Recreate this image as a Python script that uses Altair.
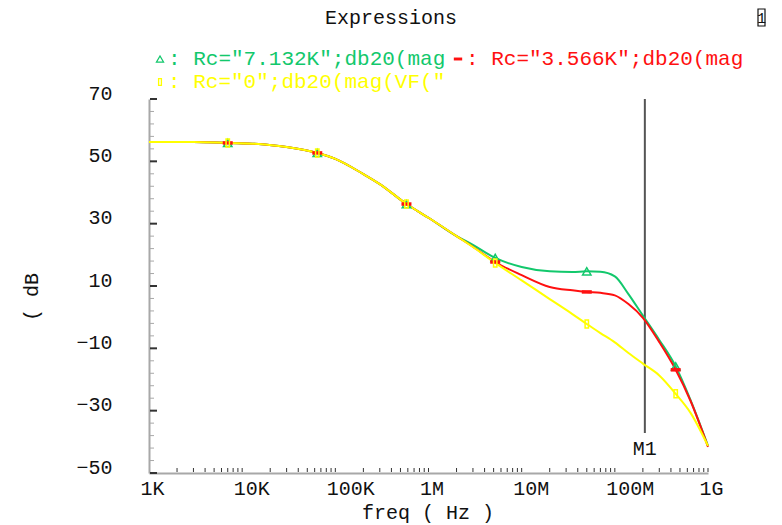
import altair as alt
import pandas as pd

# ---------------- data ----------------
freq_hz = [1e3, 3e3, 7e3, 1.5e4, 3e4, 6.4e4, 1e5, 2e5, 3e5, 5.8e5, 1e6, 2e6, 3e6,
           5.2e6, 1e7, 2e7, 3.5e7, 5e7, 7e7, 1e8, 1.4e8, 2e8, 3e8, 4.5e8, 6.5e8, 1e9]
db_rc_7132 = [56.2, 56.2, 55.9, 55.6, 54.6, 52.7, 50.8, 45.9, 42.7, 36.3, 31.9, 26.0, 23.2,
              19.0, 16.1, 14.7, 14.5, 14.7, 14.6, 13.1, 7.4, 0.5, -7.3, -15.8, -26.6, -41.3]
db_rc_3566 = [56.2, 56.2, 55.9, 55.6, 54.6, 52.7, 50.8, 45.9, 42.7, 36.3, 31.9, 26.0, 22.6,
              17.7, 13.5, 9.7, 8.6, 8.1, 7.8, 7.0, 4.2, -0.2, -8.0, -16.9, -26.9, -41.6]
db_rc_0 = [56.2, 56.2, 55.9, 55.6, 54.6, 52.7, 50.8, 45.9, 42.7, 36.3, 31.9, 26.0, 22.5,
           17.4, 11.8, 5.8, 1.0, -2.2, -5.1, -8.1, -11.5, -14.9, -18.7, -24.6, -30.7, -41.3]
marker_freqs = [7e3, 6.4e4, 5.8e5, 5.2e6, 5e7, 4.5e8]
m1_freq = [2.1e8]

series_names = ["Rc=7.132K", "Rc=3.566K", "Rc=0"]
series_colors = ["#12c86c", "#ff1010", "#ffff00"]
legend_texts = [': Rc="7.132K";db20(mag', ': Rc="3.566K";db20(mag', ': Rc="0";db20(mag(VF("']

x_tick_values = [1000, 10000, 100000, 1000000, 10000000, 100000000, 1000000000]
x_tick_labels = ["1K", "10K", "100K", "1M", "10M", "100M", "1G"]
y_tick_values = [-50, -30, -10, 10, 30, 50, 70]
y_minor_values = [v for v in range(-50, 71, 4) if v not in y_tick_values]
x_minor_values = [m * 10 ** k for k in range(3, 9) for m in range(2, 11)]

chart_title = "Expressions"
x_title = "freq ( Hz )"
y_title = "( dB"
marker_name = "M1"

# ---------------- build ----------------
W, H = 559, 374
FONT = "Liberation Mono"

rows = []
for name, vals in zip(series_names, [db_rc_7132, db_rc_3566, db_rc_0]):
    for f, v in zip(freq_hz, vals):
        rows.append({"freq": f, "db": v, "series": name, "marker": f in marker_freqs})
df = pd.DataFrame(rows)

x_scale = alt.Scale(type="log", domain=[1e3, 1e9], nice=False)
y_scale = alt.Scale(domain=[-50, 70], nice=False, zero=False)

label_expr = " : ".join(f"datum.value == {v} ? '{l}'" for v, l in zip(x_tick_values, x_tick_labels)) + " : ''"

x_axis = alt.Axis(values=x_tick_values, labelExpr=label_expr, title=None, grid=False,
                  ticks=False, tickSize=0, domainColor="#a8a8a8", domainWidth=2,
                  labelFont=FONT, labelFontSize=20, labelColor="#111",
                  labelAlign="left", labelOffset=-9, labelPadding=5, labelFlush=False,
                  labelOverlap=False)
y_axis = alt.Axis(values=y_tick_values, title=None, grid=False, ticks=False, tickSize=0,
                  domainColor="#a8a8a8", domainWidth=2, labelFont=FONT, labelFontSize=20,
                  labelColor="#111", labelPadding=37, labelOffset=-6, format="d",
                  labelBaseline="middle")

X = alt.X("freq:Q", scale=x_scale, axis=x_axis)
Y = alt.Y("db:Q", scale=y_scale, axis=y_axis)

layers = []

# marker M1 vertical line
m1_df = pd.DataFrame({"freq": m1_freq, "name": [marker_name]})
layers.append(alt.Chart(m1_df).mark_rule(color="#555555", strokeWidth=2).encode(
    x=X, y=alt.value(0), y2=alt.value(334)))
layers.append(alt.Chart(m1_df).mark_text(font=FONT, fontSize=20, color="#111",
                                          align="center", baseline="middle").encode(
    x=X, y=alt.value(350), text="name:N"))

# inner ticks
ymaj = pd.DataFrame({"db": y_tick_values})
ymin = pd.DataFrame({"db": y_minor_values})
xmin = pd.DataFrame({"freq": x_minor_values})
layers.append(alt.Chart(ymin).mark_rule(color="#a8a8a8", strokeWidth=1).encode(
    y=Y, x=alt.value(1), x2=alt.value(5)))
layers.append(alt.Chart(ymaj).mark_rule(color="#333333", strokeWidth=2).encode(
    y=Y, x=alt.value(1), x2=alt.value(8)))
layers.append(alt.Chart(xmin).mark_rule(color="#333333", strokeWidth=1).encode(
    x=X, y=alt.value(H - 5), y2=alt.value(H - 1)))

# curves
for name, col in zip(series_names, series_colors):
    layers.append(alt.Chart(df).transform_filter(alt.datum.series == name)
                  .mark_line(interpolate="monotone", color=col, strokeWidth=2)
                  .encode(x=X, y=Y))

# data markers
shape_tri = "triangle-up"
shape_red = "M-1,-0.35H1V0.35H-1Z"
shape_yel = "M-0.42,-1H0.42V1H-0.42Z"
marker_specs = [
    (series_names[0], series_colors[0], shape_tri, False, 70),
    (series_names[1], series_colors[1], shape_red, True, 100),
    (series_names[2], series_colors[2], shape_yel, False, 64),
]
for name, col, shp, filled, sz in marker_specs:
    layers.append(alt.Chart(df).transform_filter(
        (alt.datum.series == name) & (alt.datum.marker == True))
        .mark_point(shape=shp, filled=filled, color=col, size=sz, strokeWidth=1.5, opacity=1)
        .encode(x=X, y=Y))

# legend symbols and texts
leg_pos = [(11, -40), (309, -40), (11, -17)]
for (lx, ly), (name, col, shp, filled, sz), txt in zip(leg_pos, marker_specs, legend_texts):
    layers.append(alt.Chart(pd.DataFrame({"t": [txt]})).mark_point(
        shape=shp, filled=filled, color=col, size=sz * 0.7, strokeWidth=1.3, opacity=1).encode(
        x=alt.value(lx), y=alt.value(ly)))
    layers.append(alt.Chart(pd.DataFrame({"t": [txt]})).mark_text(
        font=FONT, fontSize=21, color=col, align="left", baseline="middle").encode(
        x=alt.value(lx + 8), y=alt.value(ly), text="t:N"))

# titles
layers.append(alt.Chart(pd.DataFrame({"t": [chart_title]})).mark_text(
    font=FONT, fontSize=20, color="#111", align="center", baseline="middle").encode(
    x=alt.value(242), y=alt.value(-81), text="t:N"))
layers.append(alt.Chart(pd.DataFrame({"t": [x_title]})).mark_text(
    font=FONT, fontSize=20, color="#111", align="center", baseline="middle").encode(
    x=alt.value(279), y=alt.value(414), text="t:N"))
layers.append(alt.Chart(pd.DataFrame({"t": [y_title]})).mark_text(
    font=FONT, fontSize=20, color="#111", align="center", baseline="middle", angle=270).encode(
    x=alt.value(-117), y=alt.value(198), text="t:N"))

# small boxed "1" at top right
box_df = pd.DataFrame({"t": ["1"]})
layers.append(alt.Chart(box_df).mark_rect(fill="white", stroke="#111", strokeWidth=1.2).encode(
    x=alt.value(609), x2=alt.value(616), y=alt.value(-90), y2=alt.value(-73)))
layers.append(alt.Chart(box_df).mark_text(font=FONT, fontSize=15, color="#111",
                                          align="center", baseline="middle").encode(
    x=alt.value(612.5), y=alt.value(-81), text="t:N"))

chart = alt.layer(*layers).properties(
    width=W, height=H,
    autosize=alt.AutoSizeParams(type="none"),
    padding={"left": 141, "top": 91, "right": 66, "bottom": 52},
    background="white",
).configure_view(stroke=None, clip=False)

chart.save("out.html", embed_options={"renderer": "svg", "actions": False})
